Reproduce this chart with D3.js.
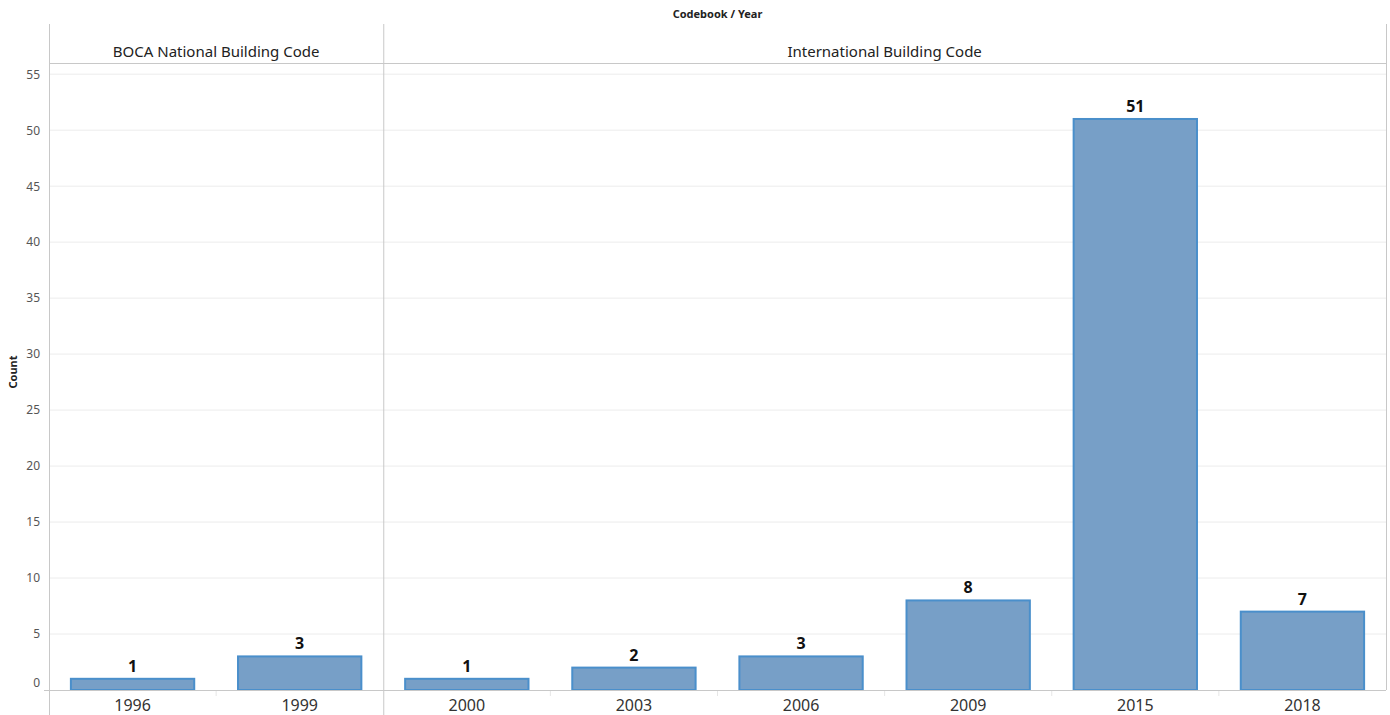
<!DOCTYPE html>
<html><head><meta charset="utf-8">
<script src="https://cdn.jsdelivr.net/npm/d3@7"></script>
<style>body{margin:0;background:#fff;}svg{display:block;font-family:"Noto Sans",sans-serif;}</style>
</head><body>
<svg id="chart" width="1390" height="715"></svg>
<script>
const panels = ["BOCA National Building Code", "International Building Code"];
const bocaYears = ["1996", "1999"];
const bocaCounts = [1, 3];
const ibcYears = ["2000", "2003", "2006", "2009", "2015", "2018"];
const ibcCounts = [1, 2, 3, 8, 51, 7];
const yTicks = [0, 5, 10, 15, 20, 25, 30, 35, 40, 45, 50, 55];

(function () {
const svg = d3.select("#chart");
const left = 49, right = 1386, frameTop = 24, header = 63, base = 690;
const allYears = bocaYears.concat(ibcYears);
const y = d3.scaleLinear().domain([0, 56]).range([base, header]);

// gridlines
svg.append("g").selectAll("line").data(yTicks.filter(d => d > 0)).join("line")
  .attr("x1", left).attr("x2", right).attr("y1", d => y(d)).attr("y2", d => y(d))
  .attr("stroke", "#ececec").attr("stroke-width", 1);

const x = d3.scaleBand().domain(allYears).range([left, right]).paddingInner(0.25).paddingOuter(0.125);
const step = x.step();
const divX = left + step * bocaYears.length;

const data = bocaYears.map((d, i) => ({year: d, count: bocaCounts[i]}))
  .concat(ibcYears.map((d, i) => ({year: d, count: ibcCounts[i]})));

// category separator ticks
svg.append("g").selectAll("line").data(allYears.slice(1).filter(d => d !== ibcYears[0])).join("line")
  .attr("x1", d => x(d) - step * 0.125).attr("x2", d => x(d) - step * 0.125)
  .attr("y1", base + 1).attr("y2", base + 6).attr("stroke", "#e6e6e6");

// bars
svg.append("g").selectAll("rect").data(data).join("rect")
  .attr("x", d => x(d.year) + 1).attr("width", x.bandwidth() - 2)
  .attr("y", d => y(d.count)).attr("height", d => base - y(d.count))
  .attr("fill", "#779fc7").attr("stroke", "#4a8fcb").attr("stroke-width", 2);

// value labels
svg.append("g").selectAll("text").data(data).join("text")
  .attr("x", d => x(d.year) + x.bandwidth() / 2).attr("y", d => y(d.count) - 7)
  .attr("text-anchor", "middle").attr("font-size", 16).attr("font-weight", "bold").attr("fill", "#111")
  .text(d => d.count);

// x axis labels
const xAxis = d3.axisBottom(x).tickSize(0).tickPadding(9);
const gx = svg.append("g").attr("transform", `translate(0,${base})`).call(xAxis);
gx.select(".domain").remove();
gx.selectAll("text").attr("font-size", 16).attr("fill", "#333").attr("font-family", '"Noto Sans",sans-serif').attr("dy", "0.72em");

// baseline
svg.append("line").attr("x1", 44).attr("x2", right).attr("y1", base + 0.5).attr("y2", base + 0.5).attr("stroke", "#c8c8c8");

// y axis
const yAxis = d3.axisLeft(y).tickValues(yTicks).tickSize(0).tickPadding(9);
const gy = svg.append("g").attr("transform", `translate(${left},0)`).call(yAxis);
gy.select(".domain").remove();
gy.selectAll("text").attr("font-size", 12).attr("fill", "#555").attr("font-family", '"Noto Sans",sans-serif')
  .attr("dy", d => d === 0 ? "-0.3em" : "0.32em");

// frame lines
svg.append("line").attr("x1", left).attr("x2", right).attr("y1", header + 0.5).attr("y2", header + 0.5).attr("stroke", "#c8c8c8");
svg.append("line").attr("x1", left + 0.5).attr("x2", left + 0.5).attr("y1", frameTop).attr("y2", 715).attr("stroke", "#c8c8c8");
svg.append("line").attr("x1", divX + 0.5).attr("x2", divX + 0.5).attr("y1", frameTop).attr("y2", 715).attr("stroke", "#c8c8c8");
svg.append("line").attr("x1", right + 0.5).attr("x2", right + 0.5).attr("y1", frameTop).attr("y2", base).attr("stroke", "#c8c8c8");

// panel headers
const panelCenters = [(left + divX) / 2, (divX + right) / 2];
svg.append("g").selectAll("text").data(panels).join("text")
  .attr("x", (d, i) => panelCenters[i]).attr("y", 57)
  .attr("text-anchor", "middle").attr("font-size", 15).attr("fill", "#222").text(d => d);

// title
svg.append("text").attr("x", (left + right) / 2).attr("y", 18).attr("text-anchor", "middle")
  .attr("font-size", 11).attr("font-weight", "bold").attr("fill", "#222").text("Codebook / Year");

// y title
svg.append("text").attr("transform", "translate(17,372) rotate(-90)").attr("text-anchor", "middle")
  .attr("font-size", 11).attr("font-weight", "bold").attr("fill", "#222").text("Count");
})();
</script>
</body></html>
